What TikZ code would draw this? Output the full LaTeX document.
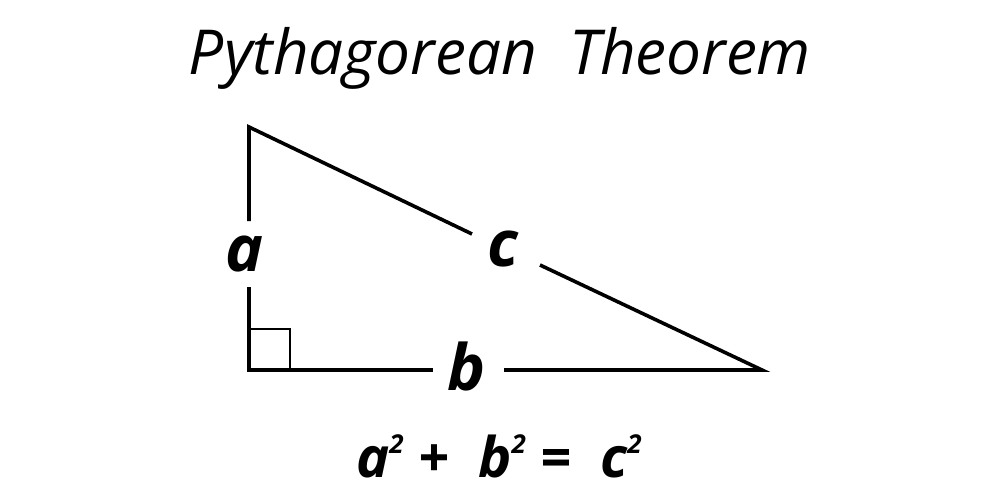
\documentclass[tikz,border=0pt]{standalone}
\usepackage{fontspec}
\setmainfont{Open Sans}
\newcommand{\sqmark}{\raisebox{0.42em}{\fontsize{26}{28}\selectfont 2}}
\begin{document}
\begin{tikzpicture}[x=1pt,y=-1pt,
  edge/.style={line width=3.6pt,line join=miter,line cap=butt},
  lbl/.style={inner sep=0pt,font=\fontsize{64}{70}\selectfont\bfseries\itshape},
  ttl/.style={inner sep=0pt,font=\fontsize{62}{66}\selectfont\itshape},
  eqn/.style={inner sep=0pt,font=\fontsize{56}{64}\selectfont\bfseries\itshape}]
\useasboundingbox[fill=white] (0,0) rectangle (1000,500);
% vertices
\coordinate (A) at (249,127);
\coordinate (C) at (249,370);
\coordinate (B) at (762,370);
% breaks
\coordinate (a1) at (249,221);
\coordinate (a2) at (249,287);
\coordinate (b1) at (433,370);
\coordinate (b2) at (504,370);
\coordinate (c1) at (472,234);
\coordinate (c2) at (540,265);
% sides
\draw[edge] (a1) -- (A) -- (c1);
\draw[edge] (a2) -- (C) -- (b1);
\draw[edge] (b2) -- (B) -- (c2);
% right angle mark
\coordinate (r1) at (249,329);
\coordinate (r2) at (290,329);
\coordinate (r3) at (290,370);
\draw[line width=2.8pt,line join=miter] (r1) -- (r2) -- (r3);
% labels
\node[lbl] (la) at (245,254) {a};
\node[lbl] (lc) at (503,249) {c};
\node[lbl] (lb) at (467,366) {b};
\node[ttl] (title) at (500,58) {Pythagorean\ \ Theorem};
\node[eqn] (eq) at (499,456) {a\sqmark{} + \ b\sqmark{} = \ c\sqmark};
\end{tikzpicture}
\end{document}
